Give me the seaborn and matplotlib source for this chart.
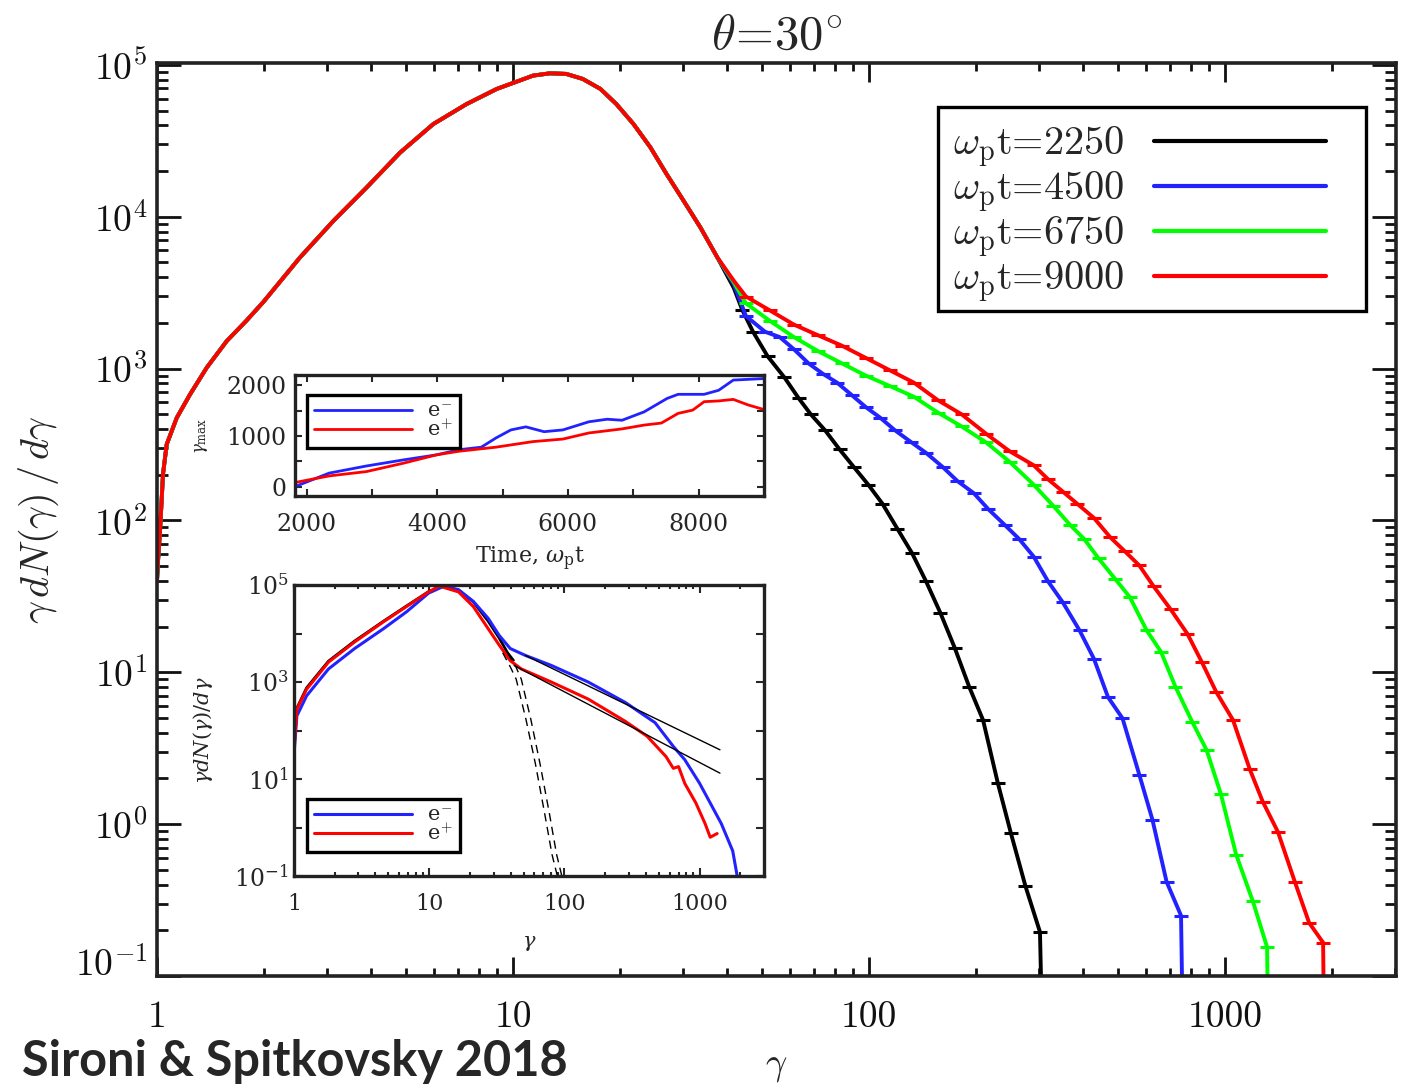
import numpy as np
import matplotlib
matplotlib.use("Agg")
import matplotlib.pyplot as plt
import seaborn as sns
from matplotlib.patches import Rectangle
from matplotlib.ticker import FixedLocator, NullFormatter

# ---- main spectrum data (gamma, gamma dN/dgamma) ----
gamma_core = [1.0, 1.0065, 1.0196, 1.0396, 1.0647, 1.136, 1.238, 1.379, 1.57, 1.78,
              1.99, 2.52, 3.13, 3.88, 4.82, 5.97, 7.41, 9.0, 11.39, 12.7,
              14.1, 15.7, 17.6, 19.5, 21.8, 24.3, 27.0, 30.1, 33.6, 37.5]
dnde_core = [40, 54, 85, 202, 317, 474, 676, 1014, 1520, 2060,
             2750, 5390, 9400, 15600, 26500, 40800, 55300, 69500, 85100, 88100,
             87300, 80900, 69500, 55300, 40800, 28700, 19100, 12800, 8500, 5390]

gamma_2250 = [41.7, 44.0, 47.2, 51.9, 57.8, 63.5, 68.6, 75.2, 82.6, 90.6, 99.5, 109,
              120, 132, 144.5, 158.5, 174, 191, 209, 230, 250, 275, 302, 306]
dnde_2250 = [3400, 2450, 1750, 1205, 877, 636, 500, 393, 294, 225, 172, 129,
             88.5, 61, 39.8, 24.7, 14.5, 8.05, 4.85, 1.86, 0.88, 0.39, 0.195, 0.05]

gamma_4500 = [41.7, 45.1, 51.0, 56.1, 61.5, 67.6, 74.2, 81.3, 89.3, 98.0, 107.5, 118,
              131.5, 144.5, 161, 177, 197, 216, 241, 264, 290, 318, 350, 390,
              428, 469, 515, 574, 625, 685, 752, 760]
dnde_4500 = [3600, 2220, 1750, 1614, 1342, 1083, 924, 809, 671, 557, 475, 394,
             327, 279, 225, 182, 151, 119, 93, 75.5, 57.8, 39.8, 28.9, 18.9,
             12.3, 6.86, 4.98, 2.12, 1.07, 0.417, 0.25, 0.05]

gamma_6750 = [41.7, 45.1, 52.7, 61.5, 71.8, 83.9, 98.0, 114.4, 133.6, 156, 182, 213,
              248, 290, 329, 367, 402, 441, 492, 540, 602, 660, 725, 808,
              887, 973, 1074, 1197, 1312, 1320]
dnde_6750 = [3700, 2690, 2060, 1614, 1306, 1083, 899, 768, 653, 514, 416, 327,
             244, 172, 125, 93.4, 75.5, 56.3, 41, 31.3, 18.9, 13.7, 8.05, 4.73,
             3.08, 1.58, 0.63, 0.31, 0.155, 0.05]

gamma_9000 = [41.7, 45.1, 52.7, 61.5, 71.8, 83.9, 98.0, 114.4, 133.6, 156, 182, 213,
              248, 290, 318, 350, 384, 428, 476, 523, 574, 630, 703, 784,
              860, 944, 1052, 1173, 1275, 1407, 1570, 1722, 1885, 1895]
dnde_9000 = [3790, 2985, 2415, 1950, 1660, 1416, 1175, 975, 809, 620, 500, 373,
             286, 231, 187, 155, 129, 104, 77.4, 62.6, 50.6, 36.8, 26.0, 17.9,
             11.7, 7.43, 4.86, 2.30, 1.41, 0.89, 0.417, 0.224, 0.166, 0.05]

times = ["2250", "4500", "6750", "9000"]
colors = ["#000000", "#2222ff", "#00ff00", "#ff0000"]

# ---- inset 1: gamma_max vs time ----
t_elec = [1824, 2346, 2915, 3482, 3992, 4330, 4674, 4897, 5128, 5356, 5635, 5923,
          6321, 6600, 6828, 7166, 7519, 7686, 8084, 8307, 8530, 9000]
gmax_elec = [5, 270, 410, 530, 630, 730, 780, 960, 1120, 1180, 1085, 1120,
             1280, 1330, 1310, 1475, 1740, 1820, 1820, 1900, 2100, 2130]
t_pos = [1824, 2346, 2915, 3482, 3992, 4330, 4897, 5464, 5923, 6321, 6828, 7166,
         7430, 7686, 7910, 8084, 8307, 8530, 8760, 9000]
gmax_pos = [85, 215, 300, 465, 630, 700, 780, 890, 940, 1060, 1140, 1215,
            1255, 1445, 1510, 1675, 1690, 1720, 1610, 1520]

# ---- inset 2: electron / positron spectra ----
g_elec = [1.0, 1.05, 1.24, 1.8, 2.81, 4.6, 6.8, 9.9, 12.8, 16.5, 21.2, 27.3, 33,
          39.8, 51.4, 80, 150, 282, 469, 640, 778, 1000, 1200, 1450, 1760, 1900, 1910]
f_elec = [32, 200, 520, 1860, 4900, 12600, 28000, 68000, 94000, 80000, 46000, 20600, 9100,
          4900, 3540, 2200, 1000, 380, 145, 47, 25, 8.2, 3.2, 1.2, 0.33, 0.1, 0.05]
g_pos = [1.0, 1.05, 1.24, 1.8, 2.81, 4.6, 6.8, 9.9, 11.9, 16.5, 21.2, 27.3, 33,
         39.8, 48, 80, 150, 282, 410, 565, 640, 700, 778, 940, 1100, 1200, 1350]
f_pos = [40, 275, 710, 2570, 6700, 17500, 36000, 72000, 95000, 72000, 36000, 12600, 5750,
         2750, 1860, 1000, 445, 155, 76, 29, 16.6, 18, 8.1, 3.2, 1.2, 0.63, 0.75]
g_tot = [1.0, 1.05, 1.24, 1.8, 2.81, 4.6, 6.8, 9.9, 12.8, 16.5, 21.2, 27.3, 33, 38, 42]
f_tot = [42, 290, 760, 2700, 7000, 18000, 37000, 73000, 95000, 78000, 45000, 18000,
         8000, 4000, 2800]
g_maxw1 = [38, 44, 48, 56.5, 66, 77.5, 87.6, 95, 100]
f_maxw1 = [4000, 2000, 1150, 170, 21, 1.95, 0.28, 0.11, 0.05]
g_maxw2 = [35, 40, 44, 52, 61, 71.5, 81, 88, 93]
f_maxw2 = [4000, 2000, 1150, 170, 21, 1.95, 0.28, 0.11, 0.05]
g_fit1 = [51.4, 1417]
f_fit1 = [3540, 40]
g_fit2 = [42.5, 1417]
f_fit2 = [2190, 13.2]

sns.set_theme(style="ticks")
plt.rcParams["font.family"] = ["cmr10", "DejaVu Serif"]
plt.rcParams["mathtext.fontset"] = "cm"
plt.rcParams["axes.unicode_minus"] = False

W, H = 1414, 1087
fig = plt.figure(figsize=(W / 100, H / 100), dpi=100)


def px_axes(x0, y0, x1, y1):
    return fig.add_axes([x0 / W, 1 - y1 / H, (x1 - x0) / W, (y1 - y0) / H])


ax = px_axes(157, 63, 1396, 976)
ax.set_xscale("log")
ax.set_yscale("log")

core_g = np.array(gamma_core)
core_f = np.array(dnde_core)
tails = [(gamma_2250, dnde_2250), (gamma_4500, dnde_4500),
         (gamma_6750, dnde_6750), (gamma_9000, dnde_9000)]
for (g, f), t, c in zip(tails, times, colors):
    gg = np.concatenate([core_g, g])
    ff = np.concatenate([core_f, f])
    sns.lineplot(x=gg, y=ff, ax=ax, color=c, lw=2.8, estimator=None,
                 marker="_", markersize=10, markeredgewidth=2.2, markeredgecolor=c,
                 markevery=list(range(len(core_g) + 1, len(gg) - 1)),
                 label=r"$\omega_{\rm p}$t=" + t)

ax.set_xlim(1, 3020)
ax.set_ylim(0.1, 1.03e5)
ax.xaxis.set_major_locator(FixedLocator([1, 10, 100, 1000]))
ax.set_xticklabels(["1", "10", "100", "1000"])
ax.xaxis.set_minor_locator(FixedLocator([m * 10.0 ** e for e in range(0, 4) for m in range(2, 10)]))
ax.xaxis.set_minor_formatter(NullFormatter())
yt = [1e-1, 1, 1e1, 1e2, 1e3, 1e4, 1e5]
ax.yaxis.set_major_locator(FixedLocator(yt))
ax.set_yticklabels([r"$10^{%d}$" % e for e in range(-1, 6)])
ax.get_yticklabels()[0].set_verticalalignment("baseline")
ax.yaxis.set_minor_locator(FixedLocator([m * 10.0 ** e for e in range(-1, 5) for m in range(2, 10)]))
ax.yaxis.set_minor_formatter(NullFormatter())
ax.tick_params(which="both", direction="in", top=True, right=True, width=2, colors="#111")
ax.tick_params(axis="x", which="major", length=14, pad=18, labelsize=27)
ax.tick_params(axis="x", which="minor", length=6)
ax.tick_params(axis="y", which="major", length=17, pad=7, labelsize=27)
ax.tick_params(axis="y", which="minor", length=8)
for s in ax.spines.values():
    s.set_linewidth(2.6)
    s.set_color("#222")
ax.set_xlabel(r"$\gamma$", fontsize=27, labelpad=12)
ax.set_ylabel(r"$\gamma\,dN(\gamma)\,/\,d\gamma$", fontsize=29, labelpad=10)
ax.set_title(r"$\theta\!=\!30^{\circ}$", fontsize=35, pad=10)

# main legend: box drawn separately so its size matches the original frame
ax.add_patch(Rectangle((938 / W, 1 - 311 / H), 428 / W, 204 / H, transform=fig.transFigure,
                       fill=True, facecolor="white", edgecolor="#000", lw=2.4,
                       zorder=4, clip_on=False))
leg = ax.legend(loc="upper left", bbox_to_anchor=(953 / W, 1 - 125 / H),
                bbox_transform=fig.transFigure, borderaxespad=0, fontsize=29,
                markerfirst=False, handlelength=4.25, handletextpad=0.75,
                labelspacing=-0.01, borderpad=0.0, frameon=False)
leg.set_zorder(5)
for h in leg.legend_handles:
    h.set_marker("")
    h.set_linewidth(3.0)

# ---- inset 1 ----
serif = dict(family="DejaVu Serif", math_fontfamily="dejavuserif")
ax1 = px_axes(295, 375, 764, 496)
sns.lineplot(x=t_elec, y=gmax_elec, ax=ax1, color="#2222ff", lw=2.0, estimator=None, label=r"e$^{-}$")
sns.lineplot(x=t_pos, y=gmax_pos, ax=ax1, color="#ff0000", lw=2.0, estimator=None, label=r"e$^{+}$")
ax1.set_xlim(1824, 9000)
ax1.set_ylim(-180, 2200)
ax1.xaxis.set_major_locator(FixedLocator([2000, 4000, 6000, 8000]))
ax1.xaxis.set_minor_locator(FixedLocator([3000, 5000, 7000]))
ax1.yaxis.set_major_locator(FixedLocator([0, 1000, 2000]))
ax1.yaxis.set_minor_locator(FixedLocator([500, 1500]))
ax1.tick_params(which="both", direction="in", top=True, right=True, width=1.5, length=5, labelsize=17)
ax1.tick_params(axis="x", pad=12)
ax1.tick_params(axis="y", pad=6)
for lab in ax1.get_xticklabels() + ax1.get_yticklabels():
    lab.set_family("DejaVu Serif")
ax1.set_xlabel(r"Time, $\omega_{\rm p}$t", fontsize=16, labelpad=7, **serif)
ax1.set_ylabel(r"$\gamma_{\rm max}$", fontsize=12, labelpad=12, **serif)
for s in ax1.spines.values():
    s.set_linewidth(2.4)
    s.set_color("#222")
leg1 = ax1.legend(loc="upper left", bbox_to_anchor=(307 / W, 1 - 395 / H),
                  bbox_transform=fig.transFigure, borderaxespad=0,
                  prop=dict(family="DejaVu Serif", size=15), markerfirst=True,
                  handlelength=4.7, handletextpad=0.7, labelspacing=-0.1,
                  borderpad=0.35, fancybox=False, framealpha=1)
leg1.get_frame().set_edgecolor("#000")
leg1.get_frame().set_linewidth(2.4)

# ---- inset 2 ----
ax2 = px_axes(294, 585, 764, 876)
ax2.set_xscale("log")
ax2.set_yscale("log")
sns.lineplot(x=g_tot, y=f_tot, ax=ax2, color="#000", lw=2.0, estimator=None)
sns.lineplot(x=g_elec, y=f_elec, ax=ax2, color="#2222ff", lw=2.2, estimator=None, label=r"e$^{-}$")
sns.lineplot(x=g_pos, y=f_pos, ax=ax2, color="#ff0000", lw=2.2, estimator=None, label=r"e$^{+}$")
sns.lineplot(x=g_maxw1, y=f_maxw1, ax=ax2, color="#000", lw=1.0, dashes=False, estimator=None)
sns.lineplot(x=g_maxw2, y=f_maxw2, ax=ax2, color="#000", lw=1.0, dashes=False, estimator=None)
for ln in ax2.lines[-2:]:
    ln.set_dashes((6, 4))
sns.lineplot(x=g_fit1, y=f_fit1, ax=ax2, color="#000", lw=1.0, estimator=None)
sns.lineplot(x=g_fit2, y=f_fit2, ax=ax2, color="#000", lw=1.0, estimator=None)
ax2.set_xlim(1, 3000)
ax2.set_ylim(0.1, 1e5)
ax2.xaxis.set_major_locator(FixedLocator([1, 10, 100, 1000]))
ax2.set_xticklabels(["1", "10", "100", "1000"])
ax2.xaxis.set_minor_locator(FixedLocator([m * 10.0 ** e for e in range(0, 4) for m in range(2, 10)]))
ax2.xaxis.set_minor_formatter(NullFormatter())
ax2.yaxis.set_major_locator(FixedLocator([1e-1, 1, 1e1, 1e2, 1e3, 1e4, 1e5]))
ax2.set_yticklabels([r"$10^{%d}$" % e if e % 2 else "" for e in range(-1, 6)])
ax2.yaxis.set_minor_locator(FixedLocator([]))
ax2.tick_params(which="both", direction="in", top=True, right=True, width=1.5, labelsize=16)
ax2.tick_params(which="major", length=6)
ax2.tick_params(which="minor", length=3)
ax2.tick_params(axis="x", pad=12)
ax2.tick_params(axis="y", pad=4, labelsize=17)
for lab in ax2.get_xticklabels() + ax2.get_yticklabels():
    lab.set_family("DejaVu Serif")
    lab.set_math_fontfamily("dejavuserif")
ax2.set_xlabel(r"$\gamma$", fontsize=15, labelpad=14, **serif)
ax2.set_ylabel(r"$\gamma dN(\gamma)/d\gamma$", fontsize=15, labelpad=14, **serif)
for s in ax2.spines.values():
    s.set_linewidth(2.4)
    s.set_color("#222")
leg2 = ax2.legend(loc="upper left", bbox_to_anchor=(307 / W, 1 - 799 / H),
                  bbox_transform=fig.transFigure, borderaxespad=0,
                  prop=dict(family="DejaVu Serif", size=15), markerfirst=True,
                  handlelength=4.7, handletextpad=0.7, labelspacing=-0.1,
                  borderpad=0.35, fancybox=False, framealpha=1)
leg2.get_frame().set_edgecolor("#000")
leg2.get_frame().set_linewidth(2.4)

fig.text(22 / W, 1 - 1062 / H, "Sironi & Spitkovsky 2018", family="Lato",
         fontweight="bold", fontsize=35, va="center", ha="left")

fig.savefig("out.png", dpi=100)
